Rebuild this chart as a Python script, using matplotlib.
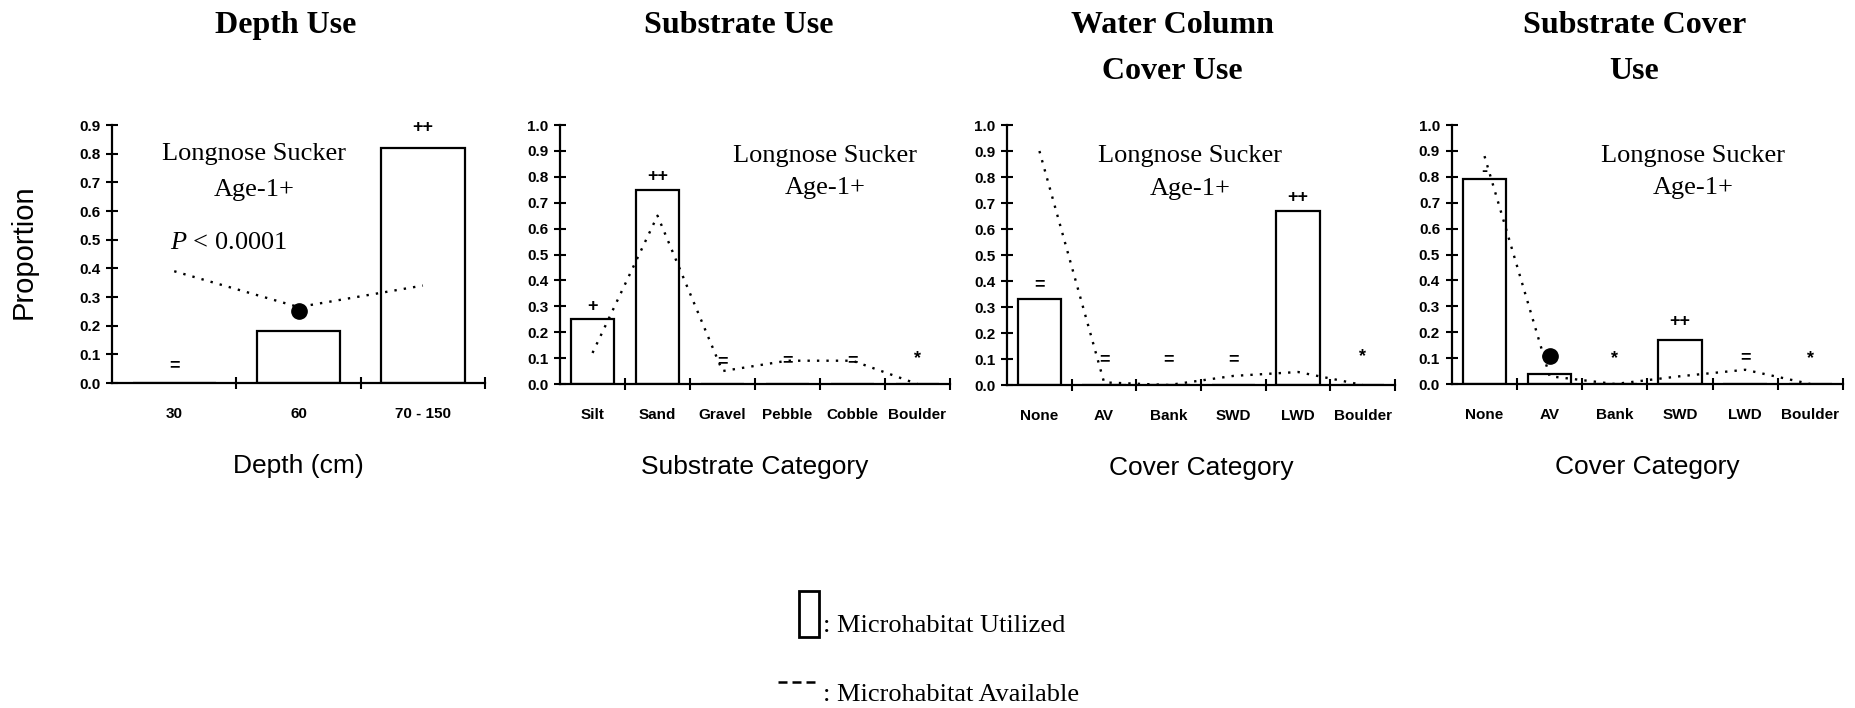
import numpy as np
import matplotlib.pyplot as plt
from matplotlib.patches import Rectangle
from matplotlib.lines import Line2D

plt.rcParams['font.family'] = ['Liberation Sans', 'DejaVu Sans']
plt.rcParams['mathtext.fontset'] = 'custom'
plt.rcParams['mathtext.rm'] = 'Liberation Serif'
plt.rcParams['mathtext.it'] = 'Liberation Serif:italic'

# --- data ---
depth_cats = ['30', '60', '70 - 150']
depth_used = [0.0, 0.18, 0.82]
depth_avail = [0.39, 0.265, 0.34]
depth_sig = ['=', 'dot', '++']

substrate_cats = ['Silt', 'Sand', 'Gravel', 'Pebble', 'Cobble', 'Boulder']
substrate_used = [0.25, 0.75, 0.0, 0.0, 0.0, 0.0]
substrate_avail = [0.12, 0.65, 0.05, 0.09, 0.09, 0.0]
substrate_sig = ['+', '++', '=', '=', '=', '*']

cover_cats = ['None', 'AV', 'Bank', 'SWD', 'LWD', 'Boulder']
wc_used = [0.33, 0.0, 0.0, 0.0, 0.67, 0.0]
wc_avail = [0.90, 0.01, 0.0, 0.035, 0.05, 0.0]
wc_sig = ['=', '=', '=', '=', '++', '*']

sc_used = [0.79, 0.04, 0.0, 0.17, 0.0, 0.0]
sc_avail = [0.88, 0.03, 0.0, 0.03, 0.055, 0.0]
sc_sig = ['-', 'dot', '*', '++', '=', '*']

serif = 'Liberation Serif'

fig = plt.figure(figsize=(18.55, 7.08), dpi=100)


def panel(rect, cats, used, avail, sig, sig_y, ymax, xlabel, txt_x, txt_y):
    ax = fig.add_axes(rect)
    x = np.arange(len(cats))
    ax.bar(x, used, width=0.67, color='white', edgecolor='black', linewidth=1.6, zorder=2)
    ax.plot(x, avail, linestyle=(0, (1, 3)), color='black', linewidth=1.7, zorder=3)
    for xi, s, yy in zip(x, sig, sig_y):
        if s == 'dot':
            ax.plot(xi, yy, 'o', color='black', markersize=11, zorder=4)
        else:
            ax.text(xi, yy, s, ha='center', va='center', fontsize=13, fontweight='bold', zorder=4)
    ax.text(txt_x, txt_y, 'Longnose Sucker', ha='center', va='center', fontsize=19, family=serif)
    ax.text(txt_x, txt_y - 0.125, 'Age-1+', ha='center', va='center', fontsize=19, family=serif)

    ax.set_xlim(-0.5, len(cats) - 0.5)
    ax.set_ylim(0, ymax)
    yt = np.round(np.arange(0, ymax + 0.001, 0.1), 1)
    ax.set_yticks(yt)
    ax.set_yticklabels([f'{v:.1f}' for v in yt], fontweight='bold', fontsize=11)
    ax.set_xticks(x + 0.5)
    ax.set_xticklabels([])
    ax.set_xticks(x, minor=True)
    ax.set_xticklabels(cats, minor=True, fontweight='bold', fontsize=11)
    ax.tick_params(axis='x', which='major', direction='inout', length=9, width=1.5)
    ax.tick_params(axis='x', which='minor', length=0, pad=17)
    ax.tick_params(axis='y', direction='inout', length=9, width=1.5, pad=4)
    for side in ['top', 'right']:
        ax.spines[side].set_visible(False)
    for side in ['left', 'bottom']:
        ax.spines[side].set_linewidth(1.6)
    ax.set_xlabel(xlabel, fontsize=19, labelpad=24)
    return ax


ax1 = panel([0.0604, 0.4590, 0.2011, 0.3644], depth_cats, depth_used, depth_avail,
            depth_sig, [0.06, 0.25, 0.89], 0.9, 'Depth (cm)', 0.64, 0.80)
ax1.text(0.44, 0.49, '$P$ < 0.0001', ha='center', va='center', fontsize=19, family=serif)

panel([0.3019, 0.4576, 0.2102, 0.3658], substrate_cats, substrate_used, substrate_avail,
      substrate_sig, [0.30, 0.80, 0.085, 0.09, 0.09, 0.10], 1.0, 'Substrate Category', 3.58, 0.88)
panel([0.5429, 0.4562, 0.2092, 0.3672], cover_cats, wc_used, wc_avail,
      wc_sig, [0.385, 0.096, 0.096, 0.096, 0.72, 0.11], 1.0, 'Cover Category', 2.33, 0.88)
panel([0.7827, 0.4576, 0.2108, 0.3658], cover_cats, sc_used, sc_avail,
      sc_sig, [0.82, 0.11, 0.10, 0.24, 0.10, 0.10], 1.0, 'Cover Category', 3.2, 0.88)

fig.text(24 / 1855, 0.644, 'Proportion', rotation=90, ha='center', va='center', fontsize=21)

# titles
title_kw = dict(ha='center', va='baseline', fontsize=23, fontweight='bold', family=serif)
fig.text(0.154, 1 - 33 / 708, 'Depth Use', **title_kw)
fig.text(0.398, 1 - 33 / 708, 'Substrate Use', **title_kw)
fig.text(0.632, 1 - 33 / 708, 'Water Column', **title_kw)
fig.text(0.632, 1 - 79 / 708, 'Cover Use', **title_kw)
fig.text(0.881, 1 - 33 / 708, 'Substrate Cover', **title_kw)
fig.text(0.881, 1 - 79 / 708, 'Use', **title_kw)

# legend
fig.patches.append(Rectangle((799 / 1855, 1 - 637 / 708), 20 / 1855, 46 / 708,
                             transform=fig.transFigure, facecolor='white',
                             edgecolor='black', linewidth=2))
fig.text(823 / 1855, 1 - 632 / 708, ': Microhabitat Utilized', ha='left', va='baseline',
         fontsize=19, family=serif)
fig.lines.append(Line2D([778 / 1855, 815 / 1855], [1 - 682 / 708, 1 - 682 / 708],
                        transform=fig.transFigure, color='black', linewidth=1.8,
                        dashes=(3.6, 2.0)))
fig.text(823 / 1855, 1 - 701 / 708, ': Microhabitat Available', ha='left', va='baseline',
         fontsize=19, family=serif)

fig.savefig('out.png', dpi=100, facecolor='white')
